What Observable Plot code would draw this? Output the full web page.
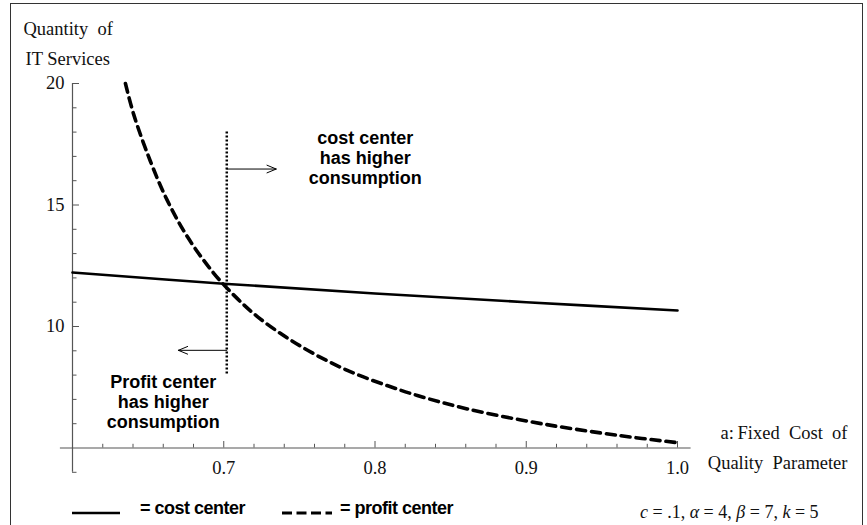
<!DOCTYPE html>
<html>
<head>
<meta charset="utf-8">
<script src="https://cdn.jsdelivr.net/npm/d3@7"></script>
<script src="https://cdn.jsdelivr.net/npm/@observablehq/plot@0.6"></script>
<style>
  body { margin: 0; background: #fff; }
  #wrap { position: relative; width: 867px; height: 525px; overflow: hidden; background: #fff; }
  #frame { position: absolute; left: 10px; top: 3px; width: 853px; height: 560px; border: 1px solid #333; box-sizing: border-box; pointer-events: none; }
  #chart { position: absolute; left: 0; top: 0; }
  #legend { position: absolute; left: 0; top: 490px; width: 867px; height: 35px; }
  .sans { font-family: "Liberation Sans", Arial, sans-serif; font-weight: bold; font-size: 18px; letter-spacing: -0.5px; color: #000; position: absolute; line-height: 20px; white-space: nowrap; }
  .serif { font-family: "Liberation Serif", "Times New Roman", serif; font-size: 18px; color: #111; position: absolute; line-height: 20px; white-space: nowrap; }
  .sw { position: absolute; }
</style>
</head>
<body>
<div id="wrap">
  <div id="chart"></div>
  <div id="legend"></div>
  <div id="frame"></div>
</div>
<script>
// ---------- data ----------
const costA = [0.6, 0.7, 0.8, 0.9, 1.0];
const costQ = [12.22, 11.76, 11.36, 11.0, 10.66];

const profitA = [0.635, 0.6405, 0.6515, 0.6625, 0.676, 0.693, 0.707, 0.722, 0.742, 0.764, 0.786, 0.808, 0.828, 0.861, 0.91, 0.962, 1.0];
const profitQ = [20, 18.72, 16.8, 15.21, 13.69, 12.22, 11.27, 10.42, 9.53, 8.73, 8.08, 7.57, 7.16, 6.61, 6.0, 5.51, 5.22];

const xMajorTicks = [0.7, 0.8, 0.9, 1.0];
const xMajorLabels = ["0.7", "0.8", "0.9", "1.0"];
const xMinorTicks = [0.62, 0.64, 0.66, 0.68, 0.72, 0.74, 0.76, 0.78, 0.82, 0.84, 0.86, 0.88, 0.92, 0.94, 0.96, 0.98];
const yMajorTicks = [10, 15, 20];
const yMinorTicks = [4, 6, 7, 8, 9, 11, 12, 13, 14, 16, 17, 18, 19];

const xDomain = [0.6, 1.0];
const yDomain = [5, 20];
const xAxisExtent = [0.592, 1.009];
const yAxisExtent = [4, 20];

const crossoverA = 0.702;
const dividerRange = [8.05, 18.06];
const arrowRows = [
  {x1: 0.702, y1: 16.48, x2: 0.7347, y2: 16.48},
  {x1: 0.702, y1: 9.02, x2: 0.670, y2: 9.02}
];
const annotations = [
  {a: 0.7935, q: 16.96, label: "cost center\nhas higher\nconsumption"},
  {a: 0.660, q: 6.89, label: "Profit center\nhas higher\nconsumption"}
];
const yTitle = ["Quantity\u2002of", "IT Services"];
const xTitle = ["a:\u2009Fixed\u2002Cost\u2002of", "Quality\u2002Parameter"];
const legendLabels = ["= cost center", "= profit center"];

// ---------- tables ----------
const costData = costA.map((a, i) => ({a, q: costQ[i]}));
const profitData = profitA.map((a, i) => ({a, q: profitQ[i]}));

const axisColor = "#555";

const plot = Plot.plot({
  width: 867,
  height: 490,
  marginLeft: 72,
  marginRight: 190,
  marginTop: 83,
  marginBottom: 42.5,
  x: {domain: xDomain, label: null},
  y: {domain: yDomain, label: null},
  style: {fontFamily: '"Liberation Serif","Times New Roman",serif', fontSize: "18.5px", color: "#111", background: "transparent", overflow: "visible"},
  marks: [
    // axis lines
    Plot.ruleY([{y: yDomain[0], x1: xAxisExtent[0], x2: xAxisExtent[1]}], {y: "y", x1: "x1", x2: "x2", stroke: axisColor, strokeWidth: 1.2}),
    Plot.ruleX([{x: xDomain[0], y1: yAxisExtent[0], y2: yAxisExtent[1]}], {x: "x", y1: "y1", y2: "y2", stroke: axisColor, strokeWidth: 1.2}),
    // x ticks
    Plot.axisX({ticks: xMinorTicks, tickSize: -3.7, tickFormat: () => "", stroke: axisColor, label: null}),
    Plot.axisX({ticks: xMajorTicks, tickSize: -6.5, tickPadding: 19, tickFormat: (d) => xMajorLabels[xMajorTicks.indexOf(d)], stroke: axisColor, fill: "#111", label: null}),
    // y ticks
    Plot.axisY({ticks: yMinorTicks, tickSize: -4.5, tickFormat: () => "", stroke: axisColor, label: null}),
    Plot.axisY({ticks: yMajorTicks, tickSize: -7, tickPadding: 15, tickFormat: (d) => String(d), stroke: axisColor, fill: "#111", label: null}),
    // curves
    Plot.line(costData, {x: "a", y: "q", stroke: "#000", strokeWidth: 2.6, curve: "catmull-rom"}),
    Plot.line(profitData, {x: "a", y: "q", stroke: "#000", strokeWidth: 3.6, strokeDasharray: "9,6", curve: "catmull-rom"}),
    // divider
    Plot.ruleX([{x: crossoverA, y1: dividerRange[0], y2: dividerRange[1]}], {x: "x", y1: "y1", y2: "y2", stroke: "#000", strokeWidth: 2.5, strokeDasharray: "2,2"}),
    Plot.arrow(arrowRows, {x1: "x1", y1: "y1", x2: "x2", y2: "y2", stroke: "#000", strokeWidth: 1, headLength: 15, headAngle: 45}),
    // annotations
    Plot.text(annotations, {x: "a", y: "q", text: "label", lineAnchor: "middle", textAnchor: "middle", lineHeight: 1.11, fontFamily: '"Liberation Sans",Arial,sans-serif', fontWeight: "bold", fontSize: 18, fill: "#000", ariaLabel: "annotation"}),
    // axis titles
    Plot.text([yTitle[0]], {frameAnchor: "top-left", dx: -49, dy: -54, textAnchor: "start", lineAnchor: "middle", fill: "#111"}),
    Plot.text([yTitle[1]], {frameAnchor: "top-left", dx: -47, dy: -24, textAnchor: "start", lineAnchor: "middle", fill: "#111"}),
    Plot.text([xTitle[0]], {frameAnchor: "bottom-right", dx: 170, dy: -14.5, textAnchor: "end", lineAnchor: "middle", fill: "#111"}),
    Plot.text([xTitle[1]], {frameAnchor: "bottom-right", dx: 170, dy: 15.5, textAnchor: "end", lineAnchor: "middle", fill: "#111"})
  ]
});
d3.select(plot).selectAll('g[aria-label="annotation"] text').style("letter-spacing", "-0.5px");
document.getElementById("chart").appendChild(plot);

// ---------- legend ----------
const legend = document.getElementById("legend");
legend.innerHTML = `
  <svg class="sw" style="left:72px;top:20px" width="48" height="6"><line x1="0" x2="48" y1="3" y2="3" stroke="#000" stroke-width="2.7"/></svg>
  <div class="sans" style="left:140px;top:8px">${legendLabels[0]}</div>
  <svg class="sw" style="left:282px;top:20px" width="50" height="6"><line x1="0" x2="50" y1="3" y2="3" stroke="#000" stroke-width="3" stroke-dasharray="10,4.5"/></svg>
  <div class="sans" style="left:340px;top:8px">${legendLabels[1]}</div>
  <div class="serif" style="left:640px;top:12px"><i>c</i> = .1, <i>α</i> = 4, <i>β</i> = 7, <i>k</i> = 5</div>
`;
</script>
</body>
</html>
